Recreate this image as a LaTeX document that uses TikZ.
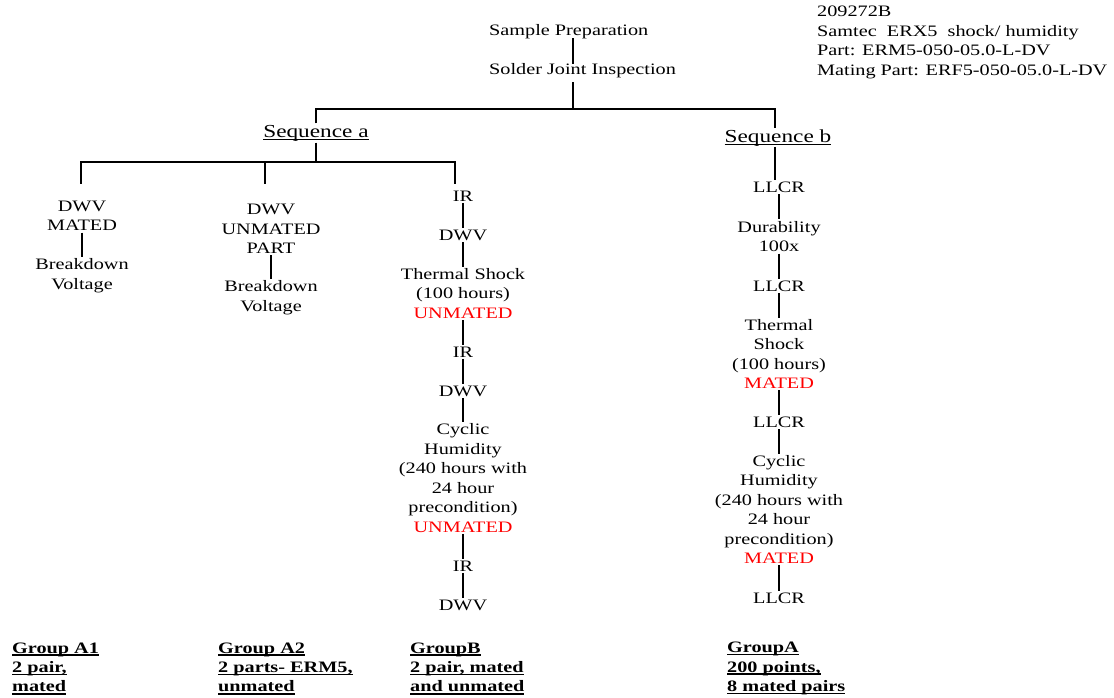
\documentclass[tikz,border=0pt]{standalone}
\usepackage{fontspec}
\setmainfont[FakeStretch=1.27]{Liberation Serif}
\newcommand\myul[2][0.7pt]{\setbox0=\hbox{#2}\leavevmode\rlap{\rule[-2.6pt]{\wd0}{#1}}\box0}
\begin{document}
\begin{tikzpicture}[x=1bp,y=-1bp,
  every node/.style={font=\fontsize{16}{19.5}\selectfont, inner sep=1.5bp, align=center},
  conn/.style={draw=black, line width=1.3bp},
  seqlbl/.style={font=\fontsize{18.4}{21}\selectfont},
  grp/.style={anchor=west, align=left, inner sep=0pt, font=\fontsize{16}{19.5}\selectfont\bfseries}]
\useasboundingbox (0,0) rectangle (1114,698);
% top
\node[anchor=west, inner sep=0pt] (sp)  at (489,32) {Sample Preparation};
\node[anchor=west, inner sep=0pt] (sji) at (489,71) {Solder Joint Inspection};
\node[anchor=west, align=left, inner sep=0pt] (hdr) at (817,42.5)
  {209272B\\Samtec\ \ ERX5\ \ shock/ humidity\\Part: ERM5-050-05.0-L-DV\\Mating Part: ERF5-050-05.0-L-DV};
\node[seqlbl] (seqa) at (316,133) {\myul[0.8pt]{Sequence a}};
\node[seqlbl] (seqb) at (778,138) {\myul[0.8pt]{Sequence b}};
% sequence a columns
\node (a1)  at (82,216)    {DWV\\MATED};
\node (a1b) at (82,275.5)  {Breakdown\\Voltage};
\node (a2)  at (271,229)   {DWV\\UNMATED\\PART};
\node (a2b) at (271,297.5) {Breakdown\\Voltage};
\node (b1) at (463,196) {IR};
\node (b2) at (463,235) {DWV};
\node (b3) at (463,293.5) {Thermal Shock\\(100 hours)\\\textcolor{red}{UNMATED}};
\node (b4) at (463,352) {IR};
\node (b5) at (463,391) {DWV};
\node (b6) at (463,478) {Cyclic\\Humidity\\(240 hours with\\24 hour\\precondition)\\\textcolor{red}{UNMATED}};
\node (b7) at (463,566) {IR};
\node (b8) at (463,605) {DWV};
% sequence b
\node (c1) at (779,187) {LLCR};
\node (c2) at (779,236.5) {Durability\\100x};
\node (c3) at (779,286) {LLCR};
\node (c4) at (779,354) {Thermal\\Shock\\(100 hours)\\\textcolor{red}{MATED}};
\node (c5) at (779,422) {LLCR};
\node (c6) at (779,509.5) {Cyclic\\Humidity\\(240 hours with\\24 hour\\precondition)\\\textcolor{red}{MATED}};
\node (c7) at (779,598) {LLCR};
% groups
\node[grp] (g1) at (12,668.5)  {\myul[1.3pt]{Group A1}\\\myul[1.3pt]{2 pair,}\\\myul[1.3pt]{mated}};
\node[grp] (g2) at (218,668.5) {\myul[1.3pt]{Group A2}\\\myul[1.3pt]{2 parts- ERM5,}\\\myul[1.3pt]{unmated}};
\node[grp] (g3) at (410,668.5) {\myul[1.3pt]{GroupB}\\\myul[1.3pt]{2 pair, mated}\\\myul[1.3pt]{and unmated}};
\node[grp] (g4) at (727,668.5) {\myul[1.3pt]{GroupA}\\\myul[1.3pt]{200 points,}\\\myul[1.3pt]{8 mated pairs}};
% junction coordinates
\coordinate (j1) at (573,109);
\coordinate (j2) at (316,162);
\coordinate (d1) at (81,184);
\coordinate (d2) at (265,184);
\coordinate (d3) at (455,184);
\coordinate (sb) at (775,147);
% connectors
\draw[conn] (sp.south -| j1) ++(0,-1) -- (sji.north -| j1);
\draw[conn] (sji.south -| j1) ++(0,4) -- (j1);
\draw[conn] (seqa.north) |- (j1) -| (seqb.north -| sb);
\draw[conn] (seqa.south) -- (j2);
\draw[conn] (d1) |- (j2) -| (d3);
\draw[conn] (d2) -- (d2 |- j2);
\draw[conn] (a1) -- (a1b);
\draw[conn] (a2) -- (a2b);
\draw[conn] (b1) -- (b2);
\draw[conn] (b2) -- (b3);
\draw[conn] (b3) -- (b4);
\draw[conn] (b4) -- (b5);
\draw[conn] (b5) -- (b6);
\draw[conn] (b6) -- (b7);
\draw[conn] (b7) -- (b8);
\draw[conn] (sb) -- (sb |- c1.north);
\draw[conn] (c1) -- (c2);
\draw[conn] (c2) -- (c3);
\draw[conn] (c3) -- (c4);
\draw[conn] (c4) -- (c5);
\draw[conn] (c5) -- (c6);
\draw[conn] (c6) -- (c7);
\end{tikzpicture}
\end{document}
